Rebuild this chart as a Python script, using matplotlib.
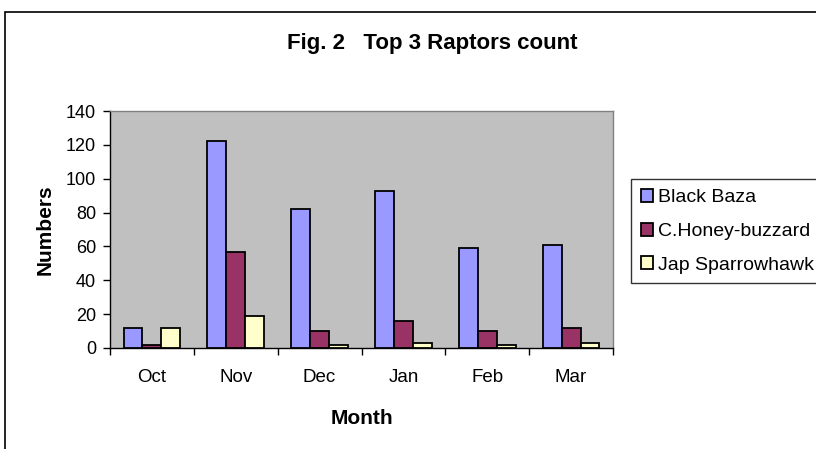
import matplotlib.pyplot as plt
import matplotlib.patches as mpatches
import numpy as np

plt.rcParams['font.family'] = ['Liberation Sans', 'DejaVu Sans']

months = ['Oct', 'Nov', 'Dec', 'Jan', 'Feb', 'Mar']
black_baza = [12, 122, 82, 93, 59, 61]
honey_buzzard = [2, 57, 10, 16, 10, 12]
jap_sparrowhawk = [12, 19, 2, 3, 2, 3]

series = [('Black Baza', black_baza, '#9999FF'),
          ('C.Honey-buzzard', honey_buzzard, '#993366'),
          ('Jap Sparrowhawk', jap_sparrowhawk, '#FFFFCC')]

fig = plt.figure(figsize=(8.16, 4.49), dpi=100)
ax = fig.add_axes([110 / 816, 1 - 348 / 449, 503 / 816, 237 / 449])
ax.set_facecolor('#C0C0C0')

x = np.arange(len(months))
w = 0.225
for i, (name, vals, col) in enumerate(series):
    ax.bar(x + (i - 1) * w, vals, width=w, color=col, edgecolor='black',
           linewidth=1.3, label=name, zorder=3)

ax.set_xlim(-0.5, len(months) - 0.5)
ax.set_ylim(0, 140)
ax.set_yticks(range(0, 141, 20))
ax.set_xticks(x)
ax.set_xticklabels(months)
ax.set_xticks(np.arange(-0.5, len(months), 1), minor=True)
ax.tick_params(axis='x', which='major', length=0, pad=15, labelsize=13.5)
ax.tick_params(axis='x', which='minor', length=5, width=1, direction='out')
ax.tick_params(axis='y', length=5, width=1, direction='out', labelsize=13, pad=5)

for s in ['top', 'right']:
    ax.spines[s].set_color('#808080')
    ax.spines[s].set_linewidth(1)
for s in ['left', 'bottom']:
    ax.spines[s].set_color('black')
    ax.spines[s].set_linewidth(1)

ax.set_xlabel('Month', fontsize=15, fontweight='bold', va='center')
ax.set_ylabel('Numbers', fontsize=15, fontweight='bold', va='center')
ax.xaxis.set_label_coords(0.5, (348 - 418) / 237)
ax.yaxis.set_label_coords((45 - 110) / 503, 0.5)

fig.text(432 / 816, 1 - 44 / 449, 'Fig. 2   Top 3 Raptors count', ha='center',
         va='center', fontsize=16, fontweight='bold')

leg = fig.legend(loc='upper left', bbox_to_anchor=(631 / 816, 1 - 179 / 449),
                 fontsize=14, frameon=True, fancybox=False, borderpad=0.5,
                 handlelength=0.65, handleheight=0.65, handletextpad=0.25,
                 labelspacing=0.85, borderaxespad=0)
leg.get_frame().set_edgecolor('black')
leg.get_frame().set_linewidth(1)

# outer chart border, only left and top edges visible in the crop
fig.patches.append(mpatches.Rectangle((5 / 816, -0.2), 1.2, 1.2 - 12 / 449,
                                      transform=fig.transFigure, fill=False,
                                      edgecolor='black', linewidth=1.2))

fig.savefig('out.png', dpi=100)
